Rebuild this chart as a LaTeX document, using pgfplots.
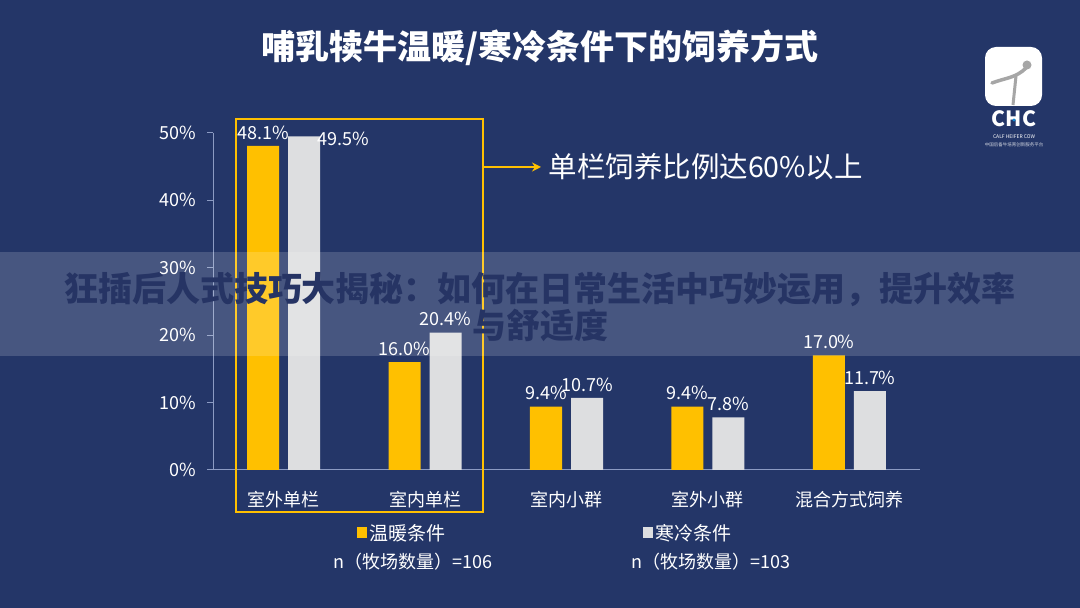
\documentclass[border=0pt]{standalone}
\usepackage{fontspec}
\setmainfont{Noto Sans CJK SC}
\usepackage{pgfplots}
\pgfplotsset{compat=1.18}
\usepackage{pgfplotstable}
\usetikzlibrary{arrows.meta}
\definecolor{bg}{RGB}{36,54,104}
\definecolor{yel}{RGB}{255,192,0}
\definecolor{gry}{RGB}{221,222,224}
\definecolor{axiscol}{RGB}{140,155,195}
\definecolor{ovl}{RGB}{38,52,100}
\pgfplotstableread{
x y dx dy
0 48.1 0 0
1 16.0 0 0
2 9.4 0 0
3 9.4 0 0
4 17.0 0 0
}\warm
\pgfplotstableread{
x y dx dy
0 49.5 39 -16
1 20.4 0 0
2 10.7 0 0
3 7.8 0 0
4 11.7 0 0
}\cold
\begin{document}
\begin{tikzpicture}
\fill[bg] (0,0) rectangle (1080pt,608pt);
\node[font=\fontsize{34}{38}\selectfont\bfseries, text=white] at (540pt,560pt) {哺乳犊牛温暖/寒冷条件下的饲养方式};
\begin{axis}[
 at={(213pt,138pt)}, anchor=south west, scale only axis, width=707pt, height=337pt,
 xmin=-0.5, xmax=4.5, ymin=0, ymax=50,
 axis x line*=bottom, axis y line*=left,
 axis line style={axiscol, line width=1pt},
 ybar, bar width=32pt,
 xtick={0,...,4}, xticklabels={室外单栏,室内单栏,室内小群,室外小群,混合方式饲养},
 x tick style={draw=none},
 ytick={0,10,...,50}, yticklabel={\pgfmathprintnumber{\tick}\%},
 y tick style={axiscol, line width=1pt}, tick align=outside, major tick length=6pt,
 /pgf/number format/assume math mode=true,
 ticklabel style={text=white, font=\fontsize{18}{20}\selectfont},
 xticklabel style={yshift=-12pt},
 yticklabel style={xshift=-7pt},
 nodes near coords={\pgfmathprintnumber[fixed,fixed zerofill,precision=1]{\pgfplotspointmeta}\%},
 every node near coord/.append style={text=white, font=\fontsize{18}{20}\selectfont, xshift={\dx pt}, yshift={\dy pt + 3pt}},
 legend style={at={(axis description cs:0.2037,-0.187)}, anchor=west, draw=none, fill=none, inner sep=0pt,
   nodes={inner sep=2pt, text=white, font=\fontsize{19}{21}\selectfont}},
 legend columns=2,
]
\addplot[fill=yel, draw=none, bar shift=-20.5pt,
  visualization depends on={\thisrow{dx} \as \dx},
  visualization depends on={\thisrow{dy} \as \dy},
  legend image code/.code={\fill[yel] (0pt,-5pt) rectangle (10pt,6pt);}]
  table[x=x,y=y] {\warm};
\addlegendentry{\makebox[272pt][l]{温暖条件}}
\addplot[fill=gry, draw=none, bar shift=20.5pt,
  visualization depends on={\thisrow{dx} \as \dx},
  visualization depends on={\thisrow{dy} \as \dy},
  legend image code/.code={\fill[gry] (0pt,-5pt) rectangle (10pt,6pt);}]
  table[x=x,y=y] {\cold};
\addlegendentry{寒冷条件}
\end{axis}
% highlight box and arrow
\draw[yel, line width=2.5pt] (236pt,96pt) rectangle (483pt,489pt);
\draw[yel, line width=2.5pt, -{Stealth[length=9pt,width=9pt]}] (483pt,441pt) -- (541pt,441pt);
\node[anchor=west, text=white, font=\fontsize{28.5}{31}\selectfont] at (545pt,441pt) {单栏饲养比例达60\%以上};
% n lines
\node[text=white, font=\fontsize{18}{20}\selectfont] at (413pt,46pt) {n（牧场数量）=106};
\node[text=white, font=\fontsize{18}{20}\selectfont] at (711pt,46pt) {n（牧场数量）=103};
% logo
\fill[white, rounded corners=11pt] (985pt,502pt) rectangle (1042pt,561pt);
\draw[gray!70, line width=3.5pt, line cap=round] (992pt,525pt) .. controls (1005pt,530pt) and (1016pt,530pt) .. (1026pt,540pt);
\fill[gray!70] (1027pt,543pt) circle (4.5pt);
\draw[gray!70, line width=3pt] (1016pt,532pt) -- (1013pt,503pt);
\node[text=white, font=\fontsize{21}{22}\selectfont\bfseries] at (1014pt,489pt) {CHC};
\fill[cyan!70!blue] (1014pt,488pt) circle (1.6pt);
\node[text=white, font=\fontsize{5}{6}\selectfont] at (1014pt,471pt) {CALF HEIFER COW};
\node[text=white!80!bg, font=\fontsize{4.5}{5}\selectfont] at (1014pt,463pt) {中国后备牛培育创新服务平台};
% overlay band
\fill[white, opacity=0.16] (0pt,252pt) rectangle (1080pt,356pt);
\node[text=ovl, font=\fontsize{34}{36}\selectfont\bfseries] at (540pt,318pt) {狂插后人式技巧大揭秘：如何在日常生活中巧妙运用，提升效率};
\node[text=ovl, font=\fontsize{34}{36}\selectfont\bfseries] at (540pt,283pt) {与舒适度};
\end{tikzpicture}
\end{document}
